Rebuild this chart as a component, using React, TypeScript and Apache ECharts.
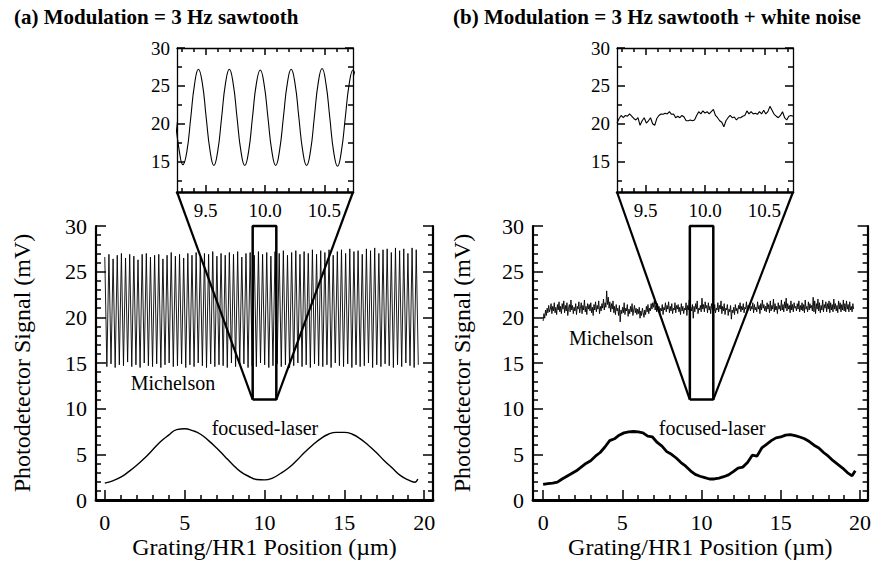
import React, { useEffect, useRef } from "react";
import * as echarts from "echarts";

const FONT = "Liberation Serif";

// ---------- titles / texts ----------
const TITLE_A = "(a) Modulation = 3 Hz sawtooth";
const TITLE_B = "(b) Modulation = 3 Hz sawtooth + white noise";
const Y_TITLE = "Photodetector Signal (mV)";
const X_TITLE = "Grating/HR1 Position (\u00b5m)";
const LABEL_MICH = "Michelson";
const LABEL_FOC = "focused-laser";

// ---------- axes ----------
const MAIN_X_A = [-0.55, 20.55];
const MAIN_X_B = [-0.64, 20.48];
const MAIN_Y = [0, 30];
const MAIN_X_MAJOR = [0, 5, 10, 15, 20];
const MAIN_X_MINOR = [1, 2, 3, 4, 6, 7, 8, 9, 11, 12, 13, 14, 16, 17, 18, 19];
const INSET_X = [9.26, 10.74];
const INSET_Y = [11, 30];
const INSET_X_MAJOR = [9.5, 10.0, 10.5];
const INSET_X_MINOR = [9.3, 9.4, 9.6, 9.7, 9.8, 9.9, 10.1, 10.2, 10.3, 10.4, 10.6, 10.7];
const INSET_Y_MAJOR = [15, 20, 25, 30];
const INSET_Y_MINOR = [12.5, 17.5, 22.5, 27.5];

// ---------- data: panel (a) ----------
const MICH_A_X0 = 0;
const MICH_A_HALF = 0.13;
const MICH_A_PEAKS = [
  26.6, 26.9, 26.4, 26.8, 27.0, 26.5, 26.9, 26.7, 26.3, 26.9, 27.0, 26.6, 26.8, 26.9, 26.4, 26.8,
  27.1, 26.7, 26.9, 26.5, 27.0, 26.8, 27.1, 26.6, 27.0, 26.9, 27.2, 26.7, 27.0, 26.8, 27.1, 26.9,
  27.2, 26.6, 27.0, 27.1, 26.8, 27.2, 26.9, 27.1, 26.7, 27.2, 27.0, 27.3, 26.8, 27.1, 27.3, 26.9,
  27.2, 27.0, 27.4, 26.9, 27.3, 27.1, 27.4, 26.8, 27.2, 27.4, 27.0, 27.5, 27.2, 27.3, 26.9, 27.5,
  27.3, 27.6, 27.0, 27.4, 27.5, 27.1, 27.6, 27.3, 27.5, 27.0, 27.6, 27.4,
];
const MICH_A_TROUGHS = [
  14.6, 14.9, 14.5, 14.8, 14.7, 15.1, 14.6, 14.8, 14.5, 15.0, 14.7, 14.6, 14.9, 14.5, 14.8, 15.0,
  14.6, 14.7, 14.9, 14.5, 14.8, 14.6, 15.0, 14.7, 14.5, 14.9, 14.6, 14.8, 14.7, 14.5, 15.0, 14.6,
  14.8, 14.9, 14.5, 14.7, 14.6, 15.0, 14.8, 14.5, 14.7, 14.9, 14.6, 14.8, 14.5, 14.7, 15.0, 14.6,
  14.8, 14.5, 14.9, 14.7, 14.6, 14.8, 14.5, 15.0, 14.7, 14.6, 14.9, 14.5, 14.8, 14.6, 14.7, 15.0,
  14.5, 14.8, 14.6, 14.9, 14.7, 14.5, 14.8, 14.6, 15.0, 14.7, 14.5, 14.8,
];
const FOC_A_X = [
  0, 0.5, 1.0, 1.5, 2.0, 2.5, 3.0, 3.5, 4.0, 4.5, 5.0, 5.5, 6.0, 6.5, 7.0, 7.5, 8.0, 8.5, 9.0, 9.5,
  10.0, 10.5, 11.0, 11.5, 12.0, 12.5, 13.0, 13.5, 14.0, 14.5, 15.0, 15.5, 16.0, 16.5, 17.0, 17.5,
  18.0, 18.5, 19.0, 19.4, 19.6,
];
const FOC_A_Y = [
  1.85, 2.1, 2.5, 3.1, 3.8, 4.6, 5.5, 6.4, 7.1, 7.7, 7.8, 7.6, 7.2, 6.5, 5.7, 4.8, 3.9, 3.1, 2.6, 2.25,
  2.2, 2.4, 2.9, 3.5, 4.3, 5.2, 6.0, 6.7, 7.2, 7.4, 7.4, 7.2, 6.7, 6.0, 5.2, 4.3, 3.5, 2.7, 2.2, 1.95,
  2.3,
];
const INSET_A_X0 = 9.245;
const INSET_A_STEP = 0.0325;
const INSET_A_Y = [
  20.8,
  16.6, 14.6, 16.3, 20.7, 25.2, 27.2, 25.4, 20.9,
  16.5, 14.5, 16.4, 20.8, 25.3, 27.2, 25.3, 20.8,
  16.4, 14.5, 16.4, 20.9, 25.3, 27.1, 25.2, 20.8,
  16.4, 14.5, 16.5, 20.9, 25.3, 27.2, 25.3, 20.8,
  16.4, 14.5, 16.4, 20.9, 25.4, 27.3, 25.3, 20.8,
  16.3, 14.4, 16.4, 20.8, 25.2, 27.1, 25.3, 20.9,
];

// ---------- data: panel (b) ----------
const MICH_B_XRANGE = [0, 19.6];
const MICH_B_Y = [
  19.6, 20.4, 19.9, 20.8, 20.2, 21.0, 20.5, 21.3, 20.6, 20.9, 21.5, 20.4, 21.2, 20.7, 21.6, 20.5, 21.1, 20.3, 21.4, 20.8,
  21.7, 20.6, 21.2, 20.4, 21.5, 20.9, 21.8, 20.5, 21.3, 20.7, 21.6, 20.2, 21.0, 21.4, 20.6, 21.9, 20.8, 21.3, 20.4, 21.1,
  20.7, 21.5, 20.3, 21.2, 20.9, 21.7, 20.5, 21.0, 21.6, 20.4, 21.3, 20.8, 21.9, 20.6, 21.2, 20.3, 21.5, 20.9, 21.4, 20.7,
  21.6, 20.5, 21.1, 20.2, 21.4, 20.8, 21.7, 20.6, 21.3, 20.9, 21.8, 20.4, 21.2, 20.7, 21.5, 21.0, 22.0, 20.8, 21.6, 21.1,
  22.9, 21.4, 22.2, 21.0, 21.7, 20.6, 21.5, 20.9, 21.8, 20.5, 21.2, 20.3, 21.4, 20.7, 21.0, 20.2, 21.3, 19.5, 20.8, 20.4,
  21.1, 20.5, 21.6, 20.3, 21.0, 20.7, 21.4, 20.1, 20.9, 20.4, 21.2, 20.6, 21.5, 20.2, 20.8, 21.3, 20.5, 21.0, 20.3, 20.9,
  20.4, 21.1, 19.9, 20.7, 20.2, 21.0, 20.5, 20.0, 20.8, 20.3, 21.2, 20.6, 21.4, 20.4, 21.0, 20.7, 21.5, 20.9, 21.6, 21.1,
  21.8, 20.8, 21.3, 20.6, 21.5, 20.9, 21.2, 20.5, 21.0, 20.7, 21.4, 20.3, 21.1, 20.8, 21.6, 20.6, 21.3, 20.9, 21.7, 20.5,
  21.2, 20.7, 21.5, 20.4, 21.0, 20.8, 21.6, 20.5, 21.3, 20.9, 21.4, 20.6, 21.1, 20.3, 21.5, 20.7, 21.2, 20.4, 21.0, 20.8,
  21.6, 20.2, 21.3, 20.8, 21.9, 20.5, 21.1, 20.7, 21.4, 19.9, 21.2, 20.6, 21.5, 20.9, 21.8, 20.4, 21.0, 20.8, 21.3, 20.6,
  22.1, 20.9, 21.4, 20.6, 21.7, 21.0, 21.3, 20.5, 21.6, 20.8, 21.2, 20.4, 21.5, 20.9, 21.1, 20.7, 21.4, 20.5, 21.0, 20.8,
  21.6, 20.6, 21.3, 20.9, 21.8, 20.4, 21.2, 20.7, 21.5, 20.3, 21.0, 20.8, 21.4, 20.2, 20.9, 20.6, 21.3, 19.8, 20.8, 20.5,
  21.1, 20.3, 21.4, 20.7, 21.0, 20.4, 21.3, 20.9, 21.6, 20.6, 21.2, 20.8, 21.5, 20.5, 21.1, 20.9, 21.7, 20.6, 21.3, 21.0,
  21.5, 20.7, 21.2, 20.9, 21.6, 20.5, 21.4, 20.8, 21.1, 20.6, 21.7, 20.9, 21.3, 20.4, 21.5, 20.8, 21.9, 21.0, 21.4, 20.7,
  21.2, 20.6, 21.6, 20.9, 21.4, 20.5, 21.8, 20.7, 21.3, 20.9, 22.0, 20.6, 21.5, 20.8, 21.2, 20.4, 21.6, 20.9, 21.3, 20.7,
  21.9, 20.8, 21.4, 20.6, 21.7, 21.0, 22.1, 20.7, 21.5, 20.9, 21.3, 20.5, 21.8, 20.8, 21.4, 20.6, 21.6, 21.0, 21.2, 20.7,
  21.5, 20.9, 21.8, 20.6, 21.3, 20.8, 21.6, 20.7, 21.4, 20.5, 21.9, 20.9, 21.2, 20.6, 21.7, 20.8, 21.5, 21.0, 21.3, 20.7,
  22.2, 20.6, 21.8, 20.4, 21.5, 20.9, 22.0, 20.7, 21.6, 20.5, 21.3, 20.8, 21.9, 20.6, 21.4, 21.0, 21.7, 20.6, 21.5, 20.9,
  21.8, 20.5, 21.6, 20.8, 21.4, 20.6, 22.0, 20.9, 21.5, 20.7, 21.3, 20.5, 21.8, 20.9, 21.6, 20.6, 21.4, 20.8, 21.9, 20.7,
  21.5, 20.6, 21.8, 20.9, 21.4, 20.6, 21.7, 20.8, 21.2, 20.6, 21.5, 20.9,
];
const FOC_B_X = [
  0, 0.3, 0.6, 0.9, 1.2, 1.5, 1.8, 2.1, 2.4, 2.7, 3.0, 3.3, 3.6, 3.9, 4.2, 4.5, 4.8, 5.1, 5.4, 5.7,
  6.0, 6.3, 6.6, 6.9, 7.2, 7.5, 7.8, 8.1, 8.4, 8.7, 9.0, 9.3, 9.6, 9.9, 10.2, 10.5, 10.8, 11.1, 11.4,
  11.7, 12.0, 12.3, 12.6, 12.9, 13.2, 13.5, 13.8, 14.1, 14.4, 14.7, 15.0, 15.3, 15.6, 15.9, 16.2, 16.5,
  16.8, 17.1, 17.4, 17.7, 18.0, 18.3, 18.6, 18.9, 19.2, 19.5, 19.7,
];
const FOC_B_Y = [
  1.7, 1.8, 1.85, 1.95, 2.3, 2.6, 2.9, 3.2, 3.6, 4.0, 4.3, 4.8, 5.2, 5.8, 6.5, 6.7, 7.1, 7.35, 7.45, 7.5,
  7.45, 7.35, 7.0, 6.9, 6.3, 5.9, 5.3, 5.0, 4.6, 4.1, 3.7, 3.2, 2.8, 2.6, 2.45, 2.3, 2.3, 2.4, 2.55,
  2.75, 3.1, 3.5, 3.6, 4.1, 4.9, 4.8, 5.7, 6.1, 6.5, 6.8, 6.9, 7.1, 7.15, 7.05, 6.9, 6.7,
  6.4, 6.0, 5.7, 5.2, 4.8, 4.3, 3.9, 3.5, 3.0, 2.65, 3.2,
];
const INSET_B_Y = [
  20.1, 20.7, 21.1, 20.8, 21.1, 21.0, 21.3, 21.0, 20.7, 20.5, 20.8, 19.8, 20.4, 20.8, 20.1, 20.4, 20.8,
  20.0, 19.8, 20.7, 21.1, 21.3, 21.25, 21.4, 21.3, 21.6, 21.25, 21.3, 20.8, 21.0, 20.8, 21.1, 20.9,
  20.4, 20.4, 20.5, 20.4, 20.5, 21.1, 21.6, 21.3, 21.7, 21.4, 21.6, 21.3, 21.6, 21.9, 21.1, 20.8,
  20.4, 20.2, 19.6, 20.4, 20.8, 21.1, 20.8, 20.9, 20.5, 20.8, 20.8, 21.0, 21.1, 21.7, 21.3, 21.6,
  21.3, 21.4, 21.25, 21.6, 21.3, 21.8, 21.3, 21.6, 22.3, 21.8, 21.25, 21.0, 20.8, 21.1, 21.6, 20.8,
  20.5, 21.0, 21.1, 21.0,
];

// ---------- annotation anchors (data coords) ----------
const ANN_A = { mich: [4.27, 12.8], foc: [10.03, 7.88] };
const ANN_B = { mich: [4.29, 17.74], foc: [10.67, 7.88] };

const BLACK = "#000";
const tickLine = { color: BLACK, width: 1.5 };

function axisDef(gridIndex: number, range: number[], position: string, ticks: number[], len: number, lineWidth: number, label?: any) {
  return {
    type: "value",
    gridIndex,
    min: range[0],
    max: range[1],
    position,
    axisLine: { show: lineWidth > 0, onZero: false, lineStyle: { color: BLACK, width: lineWidth || 1 } },
    axisTick: { show: true, inside: true, length: len, customValues: ticks, lineStyle: tickLine },
    axisLabel: label
      ? { show: true, customValues: ticks, color: BLACK, fontFamily: FONT, fontSize: label.size, margin: label.margin, formatter: label.fmt }
      : { show: false },
    splitLine: { show: false },
    minorTick: { show: false },
  };
}

function mainY(gridIndex: number, position: string, showLabels: boolean) {
  return {
    type: "value",
    gridIndex,
    min: MAIN_Y[0],
    max: MAIN_Y[1],
    interval: 5,
    position,
    axisLine: { show: true, onZero: false, lineStyle: { color: BLACK, width: 2.2 } },
    axisTick: { show: true, inside: true, length: 10, lineStyle: tickLine },
    minorTick: { show: true, splitNumber: 5, length: 5, lineStyle: tickLine },
    axisLabel: showLabels ? { show: true, color: BLACK, fontFamily: FONT, fontSize: 22, margin: 9 } : { show: false },
    splitLine: { show: false },
    minorSplitLine: { show: false },
  };
}

function panelAxes(mainGrid: number, insetGrid: number, mainX: number[]) {
  const fmt1 = (v: number) => v.toFixed(1);
  const xs = [
    axisDef(mainGrid, mainX, "bottom", MAIN_X_MAJOR, 10, 2.8, { size: 22, margin: 11, fmt: (v: number) => String(v) }),
    axisDef(mainGrid, mainX, "bottom", MAIN_X_MINOR, 5, 0),
    axisDef(insetGrid, INSET_X, "bottom", INSET_X_MAJOR, 7, 2.5, { size: 19, margin: 9, fmt: fmt1 }),
    axisDef(insetGrid, INSET_X, "bottom", INSET_X_MINOR, 4, 0),
    axisDef(insetGrid, INSET_X, "top", INSET_X_MAJOR, 7, 1.3),
    axisDef(insetGrid, INSET_X, "top", INSET_X_MINOR, 4, 0),
  ];
  const ys = [
    mainY(mainGrid, "left", true),
    mainY(mainGrid, "right", false),
    axisDef(insetGrid, INSET_Y, "left", INSET_Y_MAJOR, 8, 1.3, { size: 19, margin: 7, fmt: (v: number) => String(v) }),
    axisDef(insetGrid, INSET_Y, "left", INSET_Y_MINOR, 5, 0),
    axisDef(insetGrid, INSET_Y, "right", INSET_Y_MAJOR, 8, 1.3),
    axisDef(insetGrid, INSET_Y, "right", INSET_Y_MINOR, 5, 0),
  ];
  return { xs, ys };
}

function lineSeries(xi: number, yi: number, data: number[][], width: number, smooth: boolean | number, extra: any = {}) {
  return {
    type: "line",
    xAxisIndex: xi,
    yAxisIndex: yi,
    data,
    showSymbol: false,
    symbol: "none",
    smooth,
    silent: true,
    lineStyle: { color: BLACK, width },
    ...extra,
  };
}

function rectData() {
  return [
    [INSET_X[0], INSET_Y[0]],
    [INSET_X[1], INSET_Y[0]],
    [INSET_X[1], INSET_Y[1]],
    [INSET_X[0], INSET_Y[1]],
    [INSET_X[0], INSET_Y[0]],
  ];
}

export default function App() {
  const ref = useRef<HTMLDivElement>(null);

  useEffect(() => {
    if (!ref.current) return;
    const chart = echarts.init(ref.current, undefined, { renderer: "svg" });

    const michA: number[][] = [];
    MICH_A_PEAKS.forEach((p, i) => {
      michA.push([MICH_A_X0 + 2 * i * MICH_A_HALF, p]);
      michA.push([MICH_A_X0 + (2 * i + 1) * MICH_A_HALF, MICH_A_TROUGHS[i]]);
    });
    const focA = FOC_A_X.map((x, i) => [x, FOC_A_Y[i]]);
    const insA = INSET_A_Y.map((y, i) => [INSET_A_X0 + i * INSET_A_STEP, y]);
    const nB = MICH_B_Y.length;
    const michB = MICH_B_Y.map((y, i) => [MICH_B_XRANGE[0] + (i * (MICH_B_XRANGE[1] - MICH_B_XRANGE[0])) / (nB - 1), y]);
    const focB = FOC_B_X.map((x, i) => [x, FOC_B_Y[i]]);
    const nIB = INSET_B_Y.length;
    const insB = INSET_B_Y.map((y, i) => [INSET_X[0] + (i * (INSET_X[1] - INSET_X[0])) / (nIB - 1), y]);

    const a = panelAxes(0, 1, MAIN_X_A);
    const b = panelAxes(2, 3, MAIN_X_B);

    chart.setOption({
      animation: false,
      backgroundColor: "#fff",
      textStyle: { fontFamily: FONT },
      grid: [
        { left: 96, top: 226, width: 337, height: 274 },
        { left: 177, top: 48, width: 176, height: 144 },
        { left: 533, top: 226, width: 338, height: 274 },
        { left: 617, top: 48, width: 176, height: 144 },
      ],
      xAxis: [...a.xs, ...b.xs],
      yAxis: [...a.ys, ...b.ys],
      series: [
        lineSeries(0, 0, michA, 0.9, false),
        lineSeries(0, 0, focA, 1.4, 0.5),
        lineSeries(0, 0, rectData(), 2.5, false, { clip: false }),
        lineSeries(2, 2, insA, 1.1, 0.5),
        lineSeries(6, 6, michB, 0.9, false),
        lineSeries(6, 6, focB, 2.8, false),
        lineSeries(6, 6, rectData(), 2.5, false, { clip: false }),
        lineSeries(8, 8, insB, 1.1, false),
      ],
    });

    const px = (s: number, p: number[]) => chart.convertToPixel({ seriesIndex: s }, p) as number[];
    const conn = (rectS: number, insS: number) => {
      const out: any[] = [];
      [0, 1].forEach((k) => {
        const p1 = px(insS, [INSET_X[k], INSET_Y[0]]);
        const p2 = px(rectS, [INSET_X[k], INSET_Y[0]]);
        out.push({ type: "line", shape: { x1: p1[0], y1: p1[1], x2: p2[0], y2: p2[1] }, style: { stroke: BLACK, lineWidth: 2.2 }, silent: true });
      });
      return out;
    };
    const textEl = (x: number, y: number, text: string, size: number, extra: any = {}) => ({
      type: "text",
      x,
      y,
      silent: true,
      ...extra,
      style: {
        text,
        fill: BLACK,
        fontFamily: FONT,
        fontSize: size,
        fontWeight: "normal",
        align: "center",
        verticalAlign: "middle",
        ...(extra.style || {}),
      },
    });
    const ann = (s: number, p: number[], text: string) => {
      const q = px(s, p);
      return textEl(q[0], q[1], text, 20);
    };

    const mainACenter = px(0, [(MAIN_X_A[0] + MAIN_X_A[1]) / 2, 15]);
    const mainBCenter = px(4, [(MAIN_X_B[0] + MAIN_X_B[1]) / 2, 15]);

    chart.setOption({
      graphic: [
        ...conn(2, 3),
        ...conn(6, 7),
        ann(0, ANN_A.mich, LABEL_MICH),
        ann(0, ANN_A.foc, LABEL_FOC),
        ann(4, ANN_B.mich, LABEL_MICH),
        ann(4, ANN_B.foc, LABEL_FOC),
        textEl(14, 17, TITLE_A, 21, { style: { align: "left", fontWeight: "bold" } }),
        textEl(453, 17, TITLE_B, 21, { style: { align: "left", fontWeight: "bold" } }),
        textEl(22, mainACenter[1], Y_TITLE, 24, { rotation: Math.PI / 2 }),
        textEl(462, mainBCenter[1], Y_TITLE, 24, { rotation: Math.PI / 2 }),
        textEl(mainACenter[0], 547, X_TITLE, 24),
        textEl(mainBCenter[0], 547, X_TITLE, 24),
      ],
    });

    return () => chart.dispose();
  }, []);

  return (
    <div
      ref={ref}
      style={{ position: "absolute", left: 0, top: 0, width: 874, height: 562, background: "#fff" }}
    />
  );
}
